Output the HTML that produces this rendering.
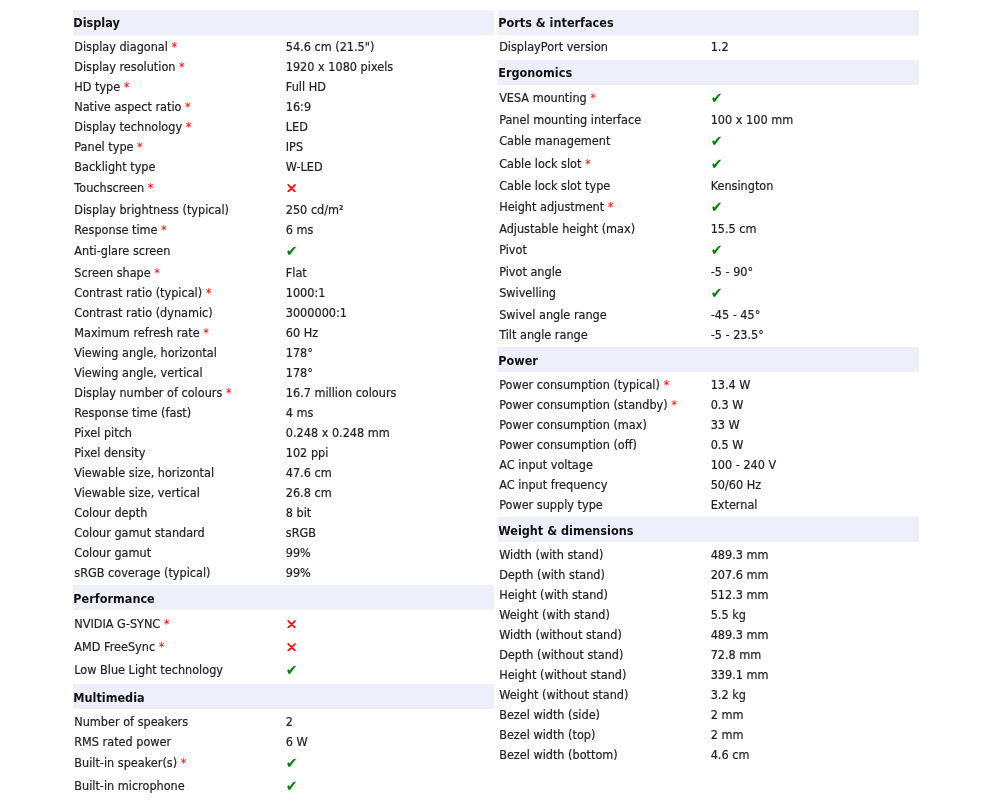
<!DOCTYPE html>
<html><head><meta charset="utf-8"><title>Specs</title>
<style>
html,body{margin:0;padding:0;background:#fff;}
body{width:989px;height:811px;overflow:hidden;position:relative;}
#w{position:absolute;left:0;top:0;width:1052.13px;height:811px;transform-origin:0 0;transform:translateX(-0.4px) scaleX(0.94);font-family:"DejaVu Sans","Liberation Sans",sans-serif;font-size:12px;color:#222;}
.col{position:absolute;top:8px;width:452px;}
.col.l{left:76px;}
.col.r{left:528px;}
table{border-collapse:separate;border-spacing:2px;width:100%;table-layout:fixed;}
th{text-align:left;font-weight:bold;color:#111;padding:0;}
th div{background:#edf0fa;line-height:15px;padding-left:0.45px;}
td{-webkit-text-stroke-width:0.2px;padding:3px 1px 0 1.45px;height:15px;line-height:14px;vertical-align:top;width:50%;}
tr.sym td{padding-top:4px;height:17px;}
.s{color:#f00;-webkit-text-stroke-width:0;}
.y,.n{display:inline-block;font-size:15px;line-height:14px;height:14px;vertical-align:top;position:relative;top:0px;}
.y{color:#008000;-webkit-text-stroke-width:0;}
.n{width:12px;}
.n svg{position:absolute;left:1.5px;top:2.8px;display:block;}

</style></head><body>
<div id="w"><div class="col l">
<table>
<tr><th colspan="2" style="padding:0px 0 0px"><div style="padding-top:6px;height:19px">Display</div></th></tr>
<tr><td>Display diagonal <span class="s">*</span></td><td>54.6 cm (21.5")</td></tr>
<tr><td>Display resolution <span class="s">*</span></td><td>1920 x 1080 pixels</td></tr>
<tr><td>HD type <span class="s">*</span></td><td>Full HD</td></tr>
<tr><td>Native aspect ratio <span class="s">*</span></td><td>16:9</td></tr>
<tr><td>Display technology <span class="s">*</span></td><td>LED</td></tr>
<tr><td>Panel type <span class="s">*</span></td><td>IPS</td></tr>
<tr><td>Backlight type</td><td>W-LED</td></tr>
<tr class="sym"><td>Touchscreen <span class="s">*</span></td><td><span class="n"><svg width="9.3" height="8.65" viewBox="0 0 9.3 8.65"><path d="M0.9 0.9L8.4 7.75M8.4 0.9L0.9 7.75" stroke="#f00" stroke-width="1.8" stroke-linecap="round" fill="none"/></svg></span></td></tr>
<tr><td>Display brightness (typical)</td><td>250 cd/m²</td></tr>
<tr><td>Response time <span class="s">*</span></td><td>6 ms</td></tr>
<tr class="sym"><td>Anti-glare screen</td><td><span class="y">✔</span></td></tr>
<tr><td>Screen shape <span class="s">*</span></td><td>Flat</td></tr>
<tr><td>Contrast ratio (typical) <span class="s">*</span></td><td>1000:1</td></tr>
<tr><td>Contrast ratio (dynamic)</td><td>3000000:1</td></tr>
<tr><td>Maximum refresh rate <span class="s">*</span></td><td>60 Hz</td></tr>
<tr><td>Viewing angle, horizontal</td><td>178°</td></tr>
<tr><td>Viewing angle, vertical</td><td>178°</td></tr>
<tr><td>Display number of colours <span class="s">*</span></td><td>16.7 million colours</td></tr>
<tr><td>Response time (fast)</td><td>4 ms</td></tr>
<tr><td>Pixel pitch</td><td>0.248 x 0.248 mm</td></tr>
<tr><td>Pixel density</td><td>102 ppi</td></tr>
<tr><td>Viewable size, horizontal</td><td>47.6 cm</td></tr>
<tr><td>Viewable size, vertical</td><td>26.8 cm</td></tr>
<tr><td>Colour depth</td><td>8 bit</td></tr>
<tr><td>Colour gamut standard</td><td>sRGB</td></tr>
<tr><td>Colour gamut</td><td>99%</td></tr>
<tr><td>sRGB coverage (typical)</td><td>99%</td></tr>
<tr><th colspan="2" style="padding:2px 0 1px"><div style="padding-top:7px;height:18px">Performance</div></th></tr>
<tr class="sym"><td>NVIDIA G-SYNC <span class="s">*</span></td><td><span class="n"><svg width="9.3" height="8.65" viewBox="0 0 9.3 8.65"><path d="M0.9 0.9L8.4 7.75M8.4 0.9L0.9 7.75" stroke="#f00" stroke-width="1.8" stroke-linecap="round" fill="none"/></svg></span></td></tr>
<tr class="sym"><td>AMD FreeSync <span class="s">*</span></td><td><span class="n"><svg width="9.3" height="8.65" viewBox="0 0 9.3 8.65"><path d="M0.9 0.9L8.4 7.75M8.4 0.9L0.9 7.75" stroke="#f00" stroke-width="1.8" stroke-linecap="round" fill="none"/></svg></span></td></tr>
<tr class="sym"><td>Low Blue Light technology</td><td><span class="y">✔</span></td></tr>
<tr><th colspan="2" style="padding:2px 0 1px"><div style="padding-top:7px;height:18px">Multimedia</div></th></tr>
<tr><td>Number of speakers</td><td>2</td></tr>
<tr><td>RMS rated power</td><td>6 W</td></tr>
<tr class="sym"><td>Built-in speaker(s) <span class="s">*</span></td><td><span class="y">✔</span></td></tr>
<tr class="sym"><td>Built-in microphone</td><td><span class="y">✔</span></td></tr>
</table>
</div>
<div class="col r">
<table>
<tr><th colspan="2" style="padding:0px 0 0px"><div style="padding-top:6px;height:19px">Ports &amp; interfaces</div></th></tr>
<tr><td>DisplayPort version</td><td>1.2</td></tr>
<tr><th colspan="2" style="padding:3px 0 0px"><div style="padding-top:6px;height:19px">Ergonomics</div></th></tr>
<tr class="sym"><td>VESA mounting <span class="s">*</span></td><td><span class="y">✔</span></td></tr>
<tr><td>Panel mounting interface</td><td>100 x 100 mm</td></tr>
<tr class="sym"><td>Cable management</td><td><span class="y">✔</span></td></tr>
<tr class="sym"><td>Cable lock slot <span class="s">*</span></td><td><span class="y">✔</span></td></tr>
<tr><td>Cable lock slot type</td><td>Kensington</td></tr>
<tr class="sym"><td>Height adjustment <span class="s">*</span></td><td><span class="y">✔</span></td></tr>
<tr><td>Adjustable height (max)</td><td>15.5 cm</td></tr>
<tr class="sym"><td>Pivot</td><td><span class="y">✔</span></td></tr>
<tr><td>Pivot angle</td><td>-5 - 90°</td></tr>
<tr class="sym"><td>Swivelling</td><td><span class="y">✔</span></td></tr>
<tr><td>Swivel angle range</td><td>-45 - 45°</td></tr>
<tr><td>Tilt angle range</td><td>-5 - 23.5°</td></tr>
<tr><th colspan="2" style="padding:2px 0 1px"><div style="padding-top:7px;height:18px">Power</div></th></tr>
<tr><td>Power consumption (typical) <span class="s">*</span></td><td>13.4 W</td></tr>
<tr><td>Power consumption (standby) <span class="s">*</span></td><td>0.3 W</td></tr>
<tr><td>Power consumption (max)</td><td>33 W</td></tr>
<tr><td>Power consumption (off)</td><td>0.5 W</td></tr>
<tr><td>AC input voltage</td><td>100 - 240 V</td></tr>
<tr><td>AC input frequency</td><td>50/60 Hz</td></tr>
<tr><td>Power supply type</td><td>External</td></tr>
<tr><th colspan="2" style="padding:2px 0 1px"><div style="padding-top:7px;height:18px">Weight &amp; dimensions</div></th></tr>
<tr><td>Width (with stand)</td><td>489.3 mm</td></tr>
<tr><td>Depth (with stand)</td><td>207.6 mm</td></tr>
<tr><td>Height (with stand)</td><td>512.3 mm</td></tr>
<tr><td>Weight (with stand)</td><td>5.5 kg</td></tr>
<tr><td>Width (without stand)</td><td>489.3 mm</td></tr>
<tr><td>Depth (without stand)</td><td>72.8 mm</td></tr>
<tr><td>Height (without stand)</td><td>339.1 mm</td></tr>
<tr><td>Weight (without stand)</td><td>3.2 kg</td></tr>
<tr><td>Bezel width (side)</td><td>2 mm</td></tr>
<tr><td>Bezel width (top)</td><td>2 mm</td></tr>
<tr><td>Bezel width (bottom)</td><td>4.6 cm</td></tr>
</table>
</div>
</div></body></html>
